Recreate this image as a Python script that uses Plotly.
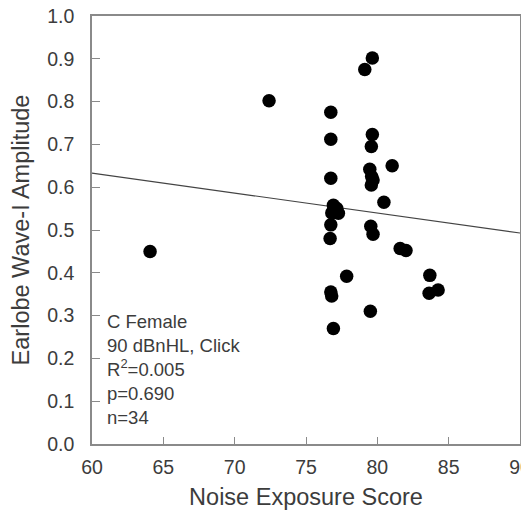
import plotly.graph_objects as go

# Data
noise_score = [72.41, 79.12, 79.65, 76.74, 76.74, 79.65, 79.58, 79.47, 79.70, 79.58,
               81.04, 76.74, 80.46, 76.92, 77.16, 76.81, 77.27, 76.74, 79.54, 79.70,
               76.69, 64.07, 81.60, 82.01, 77.85, 83.68, 83.63, 84.26, 76.74, 76.80,
               79.51, 76.92, 77.04, 79.60]
wave1_amp = [0.802, 0.875, 0.902, 0.775, 0.712, 0.723, 0.695, 0.642, 0.617, 0.605,
             0.650, 0.621, 0.565, 0.558, 0.550, 0.540, 0.539, 0.512, 0.509, 0.490,
             0.480, 0.450, 0.457, 0.452, 0.392, 0.394, 0.352, 0.360, 0.355, 0.346,
             0.310, 0.270, 0.548, 0.625]
fit_x = [60, 90]
fit_y = [0.633, 0.493]

x_ticks = [60, 65, 70, 75, 80, 85, 90]
y_ticks = [0.0, 0.1, 0.2, 0.3, 0.4, 0.5, 0.6, 0.7, 0.8, 0.9, 1.0]

stats_text = "C Female<br>90 dBnHL, Click<br>R<sup>2</sup>=0.005<br>p=0.690<br>n=34"

FONT = "Liberation Sans, Arial, sans-serif"
AXIS_COLOR = "#8a8a8a"
TEXT_COLOR = "#3c3c3c"

fig = go.Figure()
fig.add_trace(go.Scatter(x=fit_x, y=fit_y, mode="lines",
                         line=dict(color="#444444", width=1.2),
                         showlegend=False, hoverinfo="skip"))
fig.add_trace(go.Scatter(x=noise_score, y=wave1_amp, mode="markers",
                         marker=dict(color="black", size=13.5, line=dict(width=0)),
                         showlegend=False))

fig.add_annotation(x=0.030, y=0.315, xref="paper", yref="paper",
                   xanchor="left", yanchor="top", align="left", showarrow=False,
                   text=stats_text,
                   font=dict(family=FONT, size=18.5, color=TEXT_COLOR))

# the page body adds an 8px offset, so the figure is margined to compensate
fig.update_layout(
    width=529, height=502,
    margin=dict(l=84, r=17, t=8, b=66),
    paper_bgcolor="white", plot_bgcolor="white",
    font=dict(family=FONT, color=TEXT_COLOR),
)
fig.update_xaxes(
    range=[60, 90], tickvals=x_ticks, ticktext=[str(v) for v in x_ticks],
    automargin=False, ticklabeloverflow="allow",
    showgrid=False, zeroline=False,
    showline=True, linecolor=AXIS_COLOR, linewidth=1.5, mirror=True,
    ticks="inside", ticklen=7, tickcolor=AXIS_COLOR, tickwidth=1.2,
    ticklabelstandoff=5,
    tickfont=dict(family=FONT, size=19.5, color=TEXT_COLOR),
    title=dict(text="Noise Exposure Score", standoff=11,
               font=dict(family=FONT, size=23.5, color=TEXT_COLOR)),
)
fig.update_yaxes(
    range=[0, 1.0], tickvals=y_ticks, ticktext=[f"{v:.1f}" for v in y_ticks],
    automargin=False, ticklabeloverflow="allow",
    showgrid=False, zeroline=False,
    showline=True, linecolor=AXIS_COLOR, linewidth=1.5, mirror=True,
    ticks="inside", ticklen=8, tickcolor=AXIS_COLOR, tickwidth=1.2,
    ticklabelstandoff=12,
    tickfont=dict(family=FONT, size=19.5, color=TEXT_COLOR),
    title=dict(text="Earlobe Wave-I Amplitude", standoff=17,
               font=dict(family=FONT, size=23.5, color=TEXT_COLOR)),
)

fig.write_html("out.html")
